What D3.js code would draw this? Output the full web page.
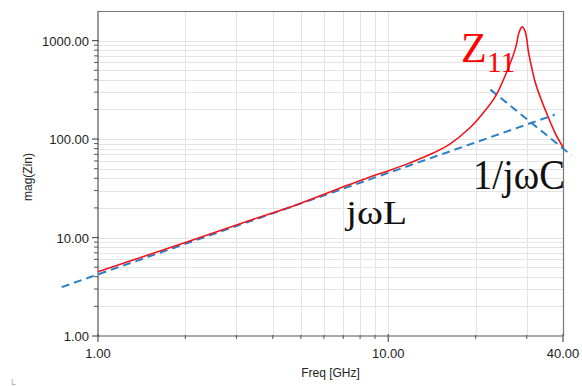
<!DOCTYPE html>
<html lang="en">
<head>
<meta charset="utf-8">
<title>mag(Zin)</title>
<script src="https://cdn.jsdelivr.net/npm/d3@7"></script>
<style>
  body { margin: 0; background: #fff; }
  svg { display: block; }
</style>
</head>
<body>
<script>
// red Z11 curve
var freq = [1, 2, 3.33, 4.87, 7.35, 8.61, 10.08, 11.8, 13.8, 16.2, 19.0, 21.1, 23.4, 26.0, 27.5, 28.2, 28.9, 29.6, 30.5, 32.2, 34.8, 37.7, 40];
var magZ = [4.5, 8.9, 14.9, 21.7, 34.5, 41, 48, 57, 69, 88, 128, 180, 271, 538, 859, 1200, 1380, 1250, 736, 365, 196, 113, 83];

// dashed asymptotes (end points)
var lineL = [[0.75, 3.14], [37.5, 177]];
var lineC = [[22.5, 318], [42.8, 68.4]];

var xTicks = [1, 10, 40];
var xTickLabels = ["1.00", "10.00", "40.00"];
var yTicks = [1, 10, 100, 1000];
var yTickLabels = ["1.00", "10.00", "100.00", "1000.00"];

var W = 582, H = 386;
var m = {left: 98, right: 19, top: 11, bottom: 50};

var svg = d3.select("body").append("svg")
    .attr("width", W).attr("height", H);

var x = d3.scaleLog().domain([1, 40]).range([m.left, W - m.right]);
var y = d3.scaleLog().domain([1, 2000]).range([H - m.bottom, m.top]);

// minor values
var xMinor = [];
[1, 10].forEach(function(d) { for (var k = 2; k <= 9; k++) if (d * k < 40) xMinor.push(d * k); });
var yMinor = [];
[1, 10, 100, 1000].forEach(function(d) { for (var k = 2; k <= 9; k++) if (d * k < 2000) yMinor.push(d * k); });

// grid
var grid = svg.append("g").attr("stroke", "#e4e4e4").attr("stroke-width", 1);
grid.selectAll(".gx").data(xMinor.concat([10])).enter().append("line")
    .attr("x1", function(d) { return Math.round(x(d)) + 0.5; })
    .attr("x2", function(d) { return Math.round(x(d)) + 0.5; })
    .attr("y1", y(2000)).attr("y2", y(1));
grid.selectAll(".gy").data(yMinor.concat([10, 100, 1000])).enter().append("line")
    .attr("y1", function(d) { return Math.round(y(d)) + 0.5; })
    .attr("y2", function(d) { return Math.round(y(d)) + 0.5; })
    .attr("x1", x(1)).attr("x2", x(40));

// frame (top and right)
svg.append("path")
    .attr("d", "M" + x(1) + "," + (y(2000) + 0.5) + "H" + (x(40) + 0.5) + "V" + y(1))
    .attr("fill", "none").attr("stroke", "#777").attr("stroke-width", 1.2);

// axes
var xAxis = svg.append("g").attr("transform", "translate(0," + y(1) + ")");
xAxis.append("line").attr("x1", x(1)).attr("x2", x(40)).attr("stroke", "#555").attr("stroke-width", 1.2);
xAxis.selectAll(".mn").data(xMinor).enter().append("line")
    .attr("x1", function(d) { return x(d); }).attr("x2", function(d) { return x(d); })
    .attr("y1", -1).attr("y2", 3).attr("stroke", "#555");
xAxis.selectAll(".mj").data(xTicks).enter().append("line")
    .attr("x1", function(d) { return x(d); }).attr("x2", function(d) { return x(d); })
    .attr("y1", -2).attr("y2", 6).attr("stroke", "#555").attr("stroke-width", 1.2);
xAxis.selectAll("text").data(xTicks).enter().append("text")
    .attr("x", function(d) { return x(d); }).attr("y", 22)
    .attr("text-anchor", "middle")
    .attr("font-family", "Liberation Sans, Arial, sans-serif").attr("font-size", 13)
    .attr("fill", "#222")
    .text(function(d, i) { return xTickLabels[i]; });

var yAxis = svg.append("g").attr("transform", "translate(" + x(1) + ",0)");
yAxis.append("line").attr("y1", y(1)).attr("y2", y(2000)).attr("stroke", "#555").attr("stroke-width", 1.2);
yAxis.selectAll(".mn").data(yMinor).enter().append("line")
    .attr("y1", function(d) { return y(d); }).attr("y2", function(d) { return y(d); })
    .attr("x1", -4).attr("x2", 0).attr("stroke", "#555");
yAxis.selectAll(".mj").data(yTicks).enter().append("line")
    .attr("y1", function(d) { return y(d); }).attr("y2", function(d) { return y(d); })
    .attr("x1", -6).attr("x2", 1).attr("stroke", "#555").attr("stroke-width", 1.2);
yAxis.selectAll("text").data(yTicks).enter().append("text")
    .attr("x", -9).attr("y", function(d) { return y(d) + 5; })
    .attr("text-anchor", "end")
    .attr("font-family", "Liberation Sans, Arial, sans-serif").attr("font-size", 13)
    .attr("fill", "#222")
    .text(function(d, i) { return yTickLabels[i]; });

// axis titles
svg.append("text")
    .attr("x", (x(1) + x(40)) / 2).attr("y", 377)
    .attr("text-anchor", "middle")
    .attr("font-family", "Liberation Sans, Arial, sans-serif").attr("font-size", 12)
    .attr("fill", "#222").text("Freq [GHz]");
svg.append("text")
    .attr("transform", "translate(32,177) rotate(-90)")
    .attr("text-anchor", "middle")
    .attr("font-family", "Liberation Sans, Arial, sans-serif").attr("font-size", 12)
    .attr("fill", "#222").text("mag(Zin)");

// dashed lines
var seg = d3.line()
    .x(function(d) { return x(d[0]); })
    .y(function(d) { return y(d[1]); });
[lineL, lineC].forEach(function(l) {
  svg.append("path").attr("d", seg(l))
      .attr("fill", "none").attr("stroke", "#2a80c8")
      .attr("stroke-width", 2).attr("stroke-dasharray", "8,5");
});

// Z11 curve
var curve = d3.line()
    .x(function(d, i) { return x(freq[i]); })
    .y(function(d) { return y(d); })
    .curve(d3.curveCatmullRom.alpha(0.5));
svg.append("path").attr("d", curve(magZ))
    .attr("fill", "none").attr("stroke", "#f0141e").attr("stroke-width", 1.6);

// annotations
var serif = "Liberation Serif, Times New Roman, serif";
var z = svg.append("text").attr("x", 461).attr("y", 62)
    .attr("font-family", serif).attr("font-size", 42).attr("fill", "#f00");
z.append("tspan").text("Z");
z.append("tspan").attr("dy", 10).attr("font-size", 30).text("11");

svg.append("text").attr("x", 346).attr("y", 224)
    .attr("font-family", serif).attr("font-size", 34).attr("fill", "#111")
    .attr("textLength", 61).attr("lengthAdjust", "spacingAndGlyphs")
    .text("jωL");
svg.append("text").attr("x", 473).attr("y", 189)
    .attr("font-family", serif).attr("font-size", 42).attr("fill", "#111")
    .attr("textLength", 92).attr("lengthAdjust", "spacingAndGlyphs")
    .text("1/jωC");

svg.append("text").attr("x", 11).attr("y", 385)
    .attr("font-family", "Liberation Sans, sans-serif").attr("font-size", 9)
    .attr("fill", "#aaa").text("L");
</script>
</body>
</html>
